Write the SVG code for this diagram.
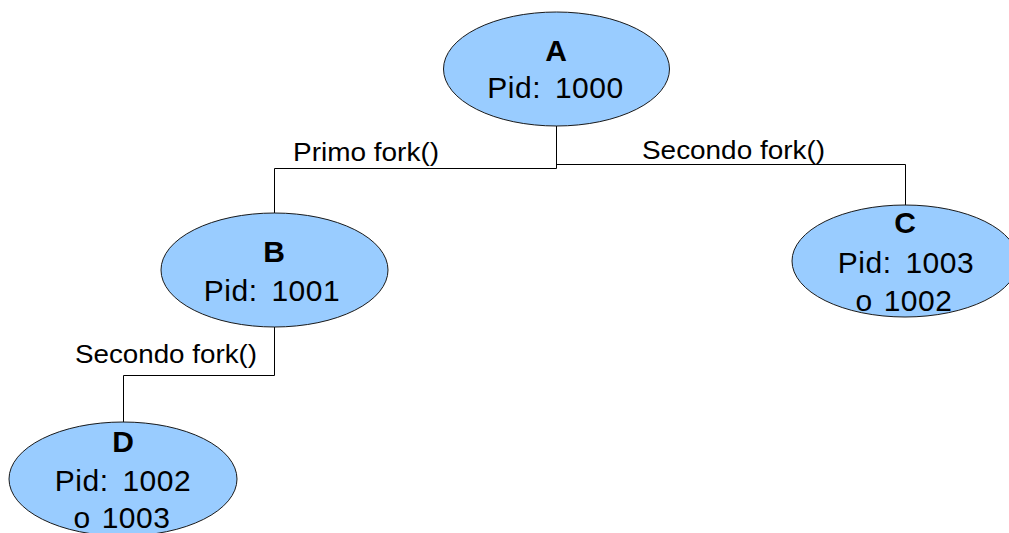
<svg xmlns="http://www.w3.org/2000/svg" width="1009" height="533" viewBox="0 0 1009 533">
<style>
.node ellipse{fill:#99ccff;stroke:#1a1a1a;stroke-width:1}
.t{font-family:"Liberation Sans",Arial,sans-serif;font-size:30px;fill:#000;text-anchor:middle}
.b{font-weight:bold}
.p{word-spacing:5px;letter-spacing:0.5px}
.o{word-spacing:2px;letter-spacing:0.5px}
.lbl{font-family:"Liberation Sans",Arial,sans-serif;font-size:26px;fill:#000}
.conn path{fill:none;stroke:#000;stroke-width:1}
</style>
<rect width="1009" height="533" fill="#fff"/>
<g id="connectors" class="conn">
<path d="M556.5 126 V168.5 H274.5 V213"/>
<path d="M556.5 164.5 H905.5 V205"/>
<path d="M274.5 327 V375.5 H123.5 V422"/>
<text class="lbl" x="293" y="161" textLength="146" lengthAdjust="spacingAndGlyphs">Primo fork()</text>
<text class="lbl" x="642" y="159" textLength="183" lengthAdjust="spacingAndGlyphs">Secondo fork()</text>
<text class="lbl" x="75" y="363" textLength="182" lengthAdjust="spacingAndGlyphs">Secondo fork()</text>
</g>
<g id="nodeA" class="node">
<ellipse cx="556.5" cy="69" rx="113" ry="57"/>
<text class="t b" x="556" y="61">A</text>
<text class="t p" x="555.5" y="98">Pid: 1000</text>
</g>
<g id="nodeB" class="node">
<ellipse cx="274.5" cy="270" rx="113.5" ry="57"/>
<text class="t b" x="274" y="262">B</text>
<text class="t p" x="272" y="301">Pid: 1001</text>
</g>
<g id="nodeC" class="node">
<ellipse cx="905" cy="261" rx="113" ry="56"/>
<text class="t b" x="905" y="233">C</text>
<text class="t p" x="906" y="273">Pid: 1003</text>
<text class="t o" x="904" y="311">o 1002</text>
</g>
<g id="nodeD" class="node">
<ellipse cx="123" cy="479" rx="114" ry="57"/>
<text class="t b" x="123" y="452">D</text>
<text class="t p" x="123" y="491">Pid: 1002</text>
<text class="t o" x="122" y="528">o 1003</text>
</g>
</svg>
